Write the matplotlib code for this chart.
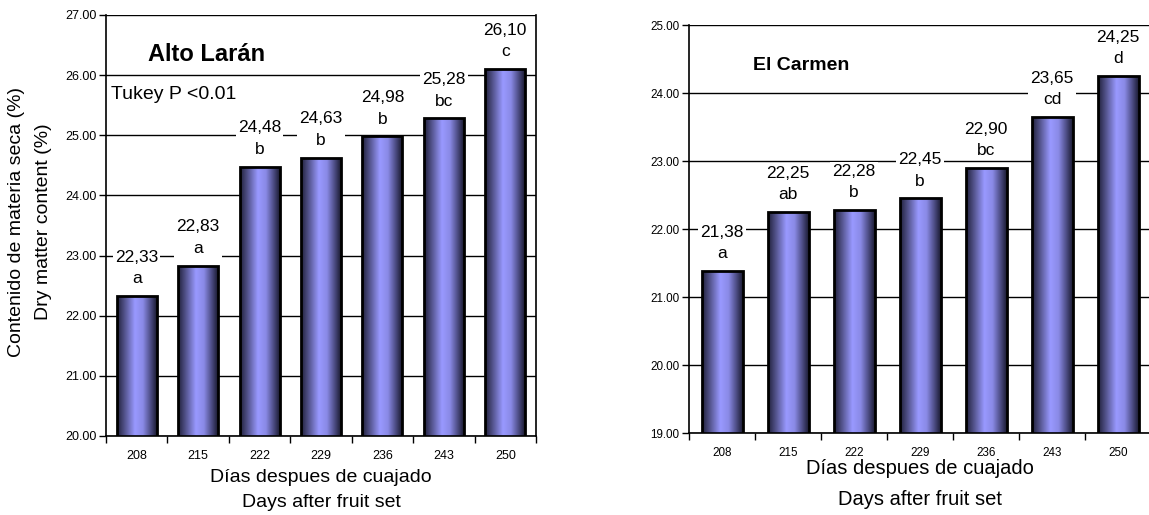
import numpy as np
import matplotlib
matplotlib.use("Agg")
import matplotlib.pyplot as plt
from matplotlib.colors import LinearSegmentedColormap

plt.rcParams['font.family'] = ['Liberation Sans', 'DejaVu Sans']

days = ["208", "215", "222", "229", "236", "243", "250"]
alto_values = [22.33, 22.83, 24.48, 24.63, 24.98, 25.28, 26.10]
alto_letters = ["a", "a", "b", "b", "b", "bc", "c"]
carmen_values = [21.38, 22.25, 22.28, 22.45, 22.90, 23.65, 24.25]
carmen_letters = ["a", "ab", "b", "b", "bc", "cd", "d"]

# dark edge -> light periwinkle centre -> dark edge
bar_cmap = LinearSegmentedColormap.from_list(
    "cyl", [(0.0, "#20203a"), (0.2, "#55558f"), (0.45, "#9999ff"),
            (0.65, "#8a8ae6"), (0.85, "#4a4a80"), (1.0, "#1a1a30")])
grad = np.linspace(0, 1, 256).reshape(1, -1)


def draw_panel(ax, values, letters, ylim, width, tick_size, label_size):
    x = np.arange(len(days))
    bars = ax.bar(x, values, width=width, bottom=0, color="none",
                  edgecolor="black", linewidth=2, zorder=3)
    for b in bars:
        x0, w = b.get_x(), b.get_width()
        im = ax.imshow(grad, cmap=bar_cmap, aspect="auto", zorder=2,
                       extent=(x0, x0 + w, ylim[0], b.get_height()))
        im.set_clip_path(b)
    for xi, v, lt in zip(x, values, letters):
        ax.annotate(f"{v:.2f}".replace(".", ",") + "\n" + lt, (xi, v),
                    xytext=(0, 7), textcoords="offset points",
                    ha="center", va="bottom", fontsize=label_size,
                    linespacing=1.55, zorder=4,
                    bbox=dict(facecolor="white", edgecolor="none", pad=1.5))
    ax.set_xlim(-0.5, len(days) - 0.5)
    ax.set_ylim(*ylim)
    ax.set_yticks(np.arange(ylim[0], ylim[1] + 0.5, 1.0))
    ax.set_yticklabels([f"{t:.2f}" for t in ax.get_yticks()], fontsize=tick_size)
    ax.set_xticks(x)
    ax.set_xticklabels(days, fontsize=tick_size)
    ax.set_xticks(np.arange(-0.5, len(days)), minor=True)
    ax.tick_params(axis="x", which="major", length=0, pad=10)
    ax.tick_params(axis="x", which="minor", length=5, width=1)
    ax.tick_params(axis="y", length=5, width=1, pad=2)
    ax.yaxis.grid(True, color="black", linewidth=1)
    ax.set_axisbelow(True)
    for s in ["left", "bottom", "right"]:
        ax.spines[s].set_linewidth(1.2)
    ax.spines["top"].set_visible(False)


fig = plt.figure(figsize=(11.49, 5.15), dpi=100)

ax1 = fig.add_axes([0.0923, 0.1534, 0.3742, 0.8175])
draw_panel(ax1, alto_values, alto_letters, (20, 27), 0.65, 9, 12.5)
ax1.text(0.098, 0.905, "Alto Larán", transform=ax1.transAxes, fontsize=17,
         fontweight="bold", ha="left", va="center")
ax1.text(0.012, 0.81, "Tukey P <0.01", transform=ax1.transAxes,
         fontsize=14, ha="left", va="center")
ax1.set_ylabel("Contenido de materia seca (%)\nDry matter content (%)",
               fontsize=14, linespacing=1.72)
ax1.yaxis.set_label_coords(-0.177, 0.508)
ax1.yaxis.label.set_va("center")
ax1.set_xlabel("Días despues de cuajado\nDays after fruit set",
               fontsize=14, linespacing=1.65)
ax1.xaxis.set_label_coords(0.5, -0.128)
ax1.xaxis.label.set_va("center")

ax2 = fig.add_axes([0.5997, 0.1592, 0.4021, 0.7922])
draw_panel(ax2, carmen_values, carmen_letters, (19, 25), 0.62, 8.4, 12.5)
ax2.text(0.139, 0.9, "El Carmen", transform=ax2.transAxes, fontsize=14,
         fontweight="bold", ha="left", va="center")
ax2.spines["right"].set_visible(False)
ax2.set_xlabel("Días despues de cuajado\nDays after fruit set",
               fontsize=14.5, linespacing=1.78)
ax2.xaxis.set_label_coords(0.5, -0.125)
ax2.xaxis.label.set_va("center")

fig.savefig("out.png", dpi=100)
